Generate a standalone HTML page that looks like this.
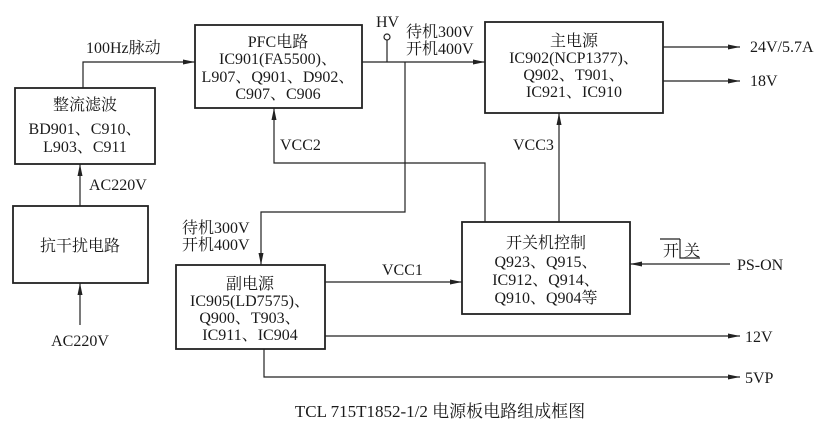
<!DOCTYPE html>
<html><head><meta charset="utf-8"><style>
body{margin:0;background:#fff}
text{font-family:"Liberation Serif","Noto Serif CJK SC",serif;font-size:16px;fill:#1a1a1a}
</style></head><body>
<svg width="822" height="440" viewBox="0 0 822 440" xmlns="http://www.w3.org/2000/svg">
<defs><marker id="a" markerWidth="12" markerHeight="6" refX="12" refY="3" orient="auto" markerUnits="userSpaceOnUse"><path d="M0,0.5 L12,3 L0,5.5z" fill="#222"/></marker></defs>
<g fill="none" stroke="#222" stroke-width="1.8">
<rect x="15" y="88" width="140" height="76"/>
<rect x="195" y="25" width="167" height="83"/>
<rect x="485" y="22" width="178" height="91"/>
<rect x="13" y="206" width="135" height="77"/>
<rect x="176" y="265" width="149" height="84"/>
<rect x="462" y="222" width="168" height="92"/>
</g>
<g fill="none" stroke="#222" stroke-width="1.2">
<path d="M83,88 V62 H195" marker-end="url(#a)"/>
<path d="M80,206 V164" marker-end="url(#a)"/>
<path d="M80,325 V283" marker-end="url(#a)"/>
<path d="M362,62 H485" marker-end="url(#a)"/>
<path d="M387,62 V40"/>
<circle cx="387" cy="37" r="3" fill="#fff"/>
<path d="M405,62 V212 H261 V265" marker-end="url(#a)"/>
<path d="M485,222 V163 H274 V108" marker-end="url(#a)"/>
<path d="M559,222 V113" marker-end="url(#a)"/>
<path d="M663,47 H740" marker-end="url(#a)"/>
<path d="M663,81 H740" marker-end="url(#a)"/>
<path d="M325,282 H462" marker-end="url(#a)"/>
<path d="M730,264 H630" marker-end="url(#a)"/>
<path d="M325,336 H740" marker-end="url(#a)"/>
<path d="M264,349 V377 H740" marker-end="url(#a)"/>
<path d="M660,239 H680 M680,239 V258 H700"/>
</g>
<text x="86" y="53">100Hz脉动</text>
<text x="85" y="110" text-anchor="middle">整流滤波</text>
<text x="85" y="134" text-anchor="middle">BD901、C910、</text>
<text x="85" y="152" text-anchor="middle">L903、C911</text>
<text x="89" y="190">AC220V</text>
<text x="80" y="251" text-anchor="middle">抗干扰电路</text>
<text x="80" y="346" text-anchor="middle">AC220V</text>
<text x="278" y="47" text-anchor="middle">PFC电路</text>
<text x="278" y="64" text-anchor="middle">IC901(FA5500)、</text>
<text x="278" y="82" text-anchor="middle">L907、Q901、D902、</text>
<text x="278" y="99" text-anchor="middle">C907、C906</text>
<text x="376" y="27">HV</text>
<text x="406" y="37">待机300V</text>
<text x="406" y="54">开机400V</text>
<text x="280" y="150">VCC2</text>
<text x="574" y="46" text-anchor="middle">主电源</text>
<text x="574" y="63" text-anchor="middle">IC902(NCP1377)、</text>
<text x="574" y="80" text-anchor="middle">Q902、T901、</text>
<text x="574" y="97" text-anchor="middle">IC921、IC910</text>
<text x="750" y="52">24V/5.7A</text>
<text x="750" y="86">18V</text>
<text x="513" y="150">VCC3</text>
<text x="182" y="233">待机300V</text>
<text x="182" y="250">开机400V</text>
<text x="250" y="289" text-anchor="middle">副电源</text>
<text x="250" y="306" text-anchor="middle">IC905(LD7575)、</text>
<text x="250" y="323" text-anchor="middle">Q900、T903、</text>
<text x="250" y="340" text-anchor="middle">IC911、IC904</text>
<text x="382" y="275">VCC1</text>
<text x="546" y="248" text-anchor="middle">开关机控制</text>
<text x="546" y="267" text-anchor="middle">Q923、Q915、</text>
<text x="546" y="285" text-anchor="middle">IC912、Q914、</text>
<text x="546" y="303" text-anchor="middle">Q910、Q904等</text>
<text x="663" y="256">开</text>
<text x="684" y="256">关</text>
<text x="737" y="270">PS-ON</text>
<text x="745" y="342">12V</text>
<text x="745" y="383">5VP</text>
<text x="440" y="417" text-anchor="middle" style="font-size:17px">TCL 715T1852-1/2 电源板电路组成框图</text>
</svg>
</body></html>
